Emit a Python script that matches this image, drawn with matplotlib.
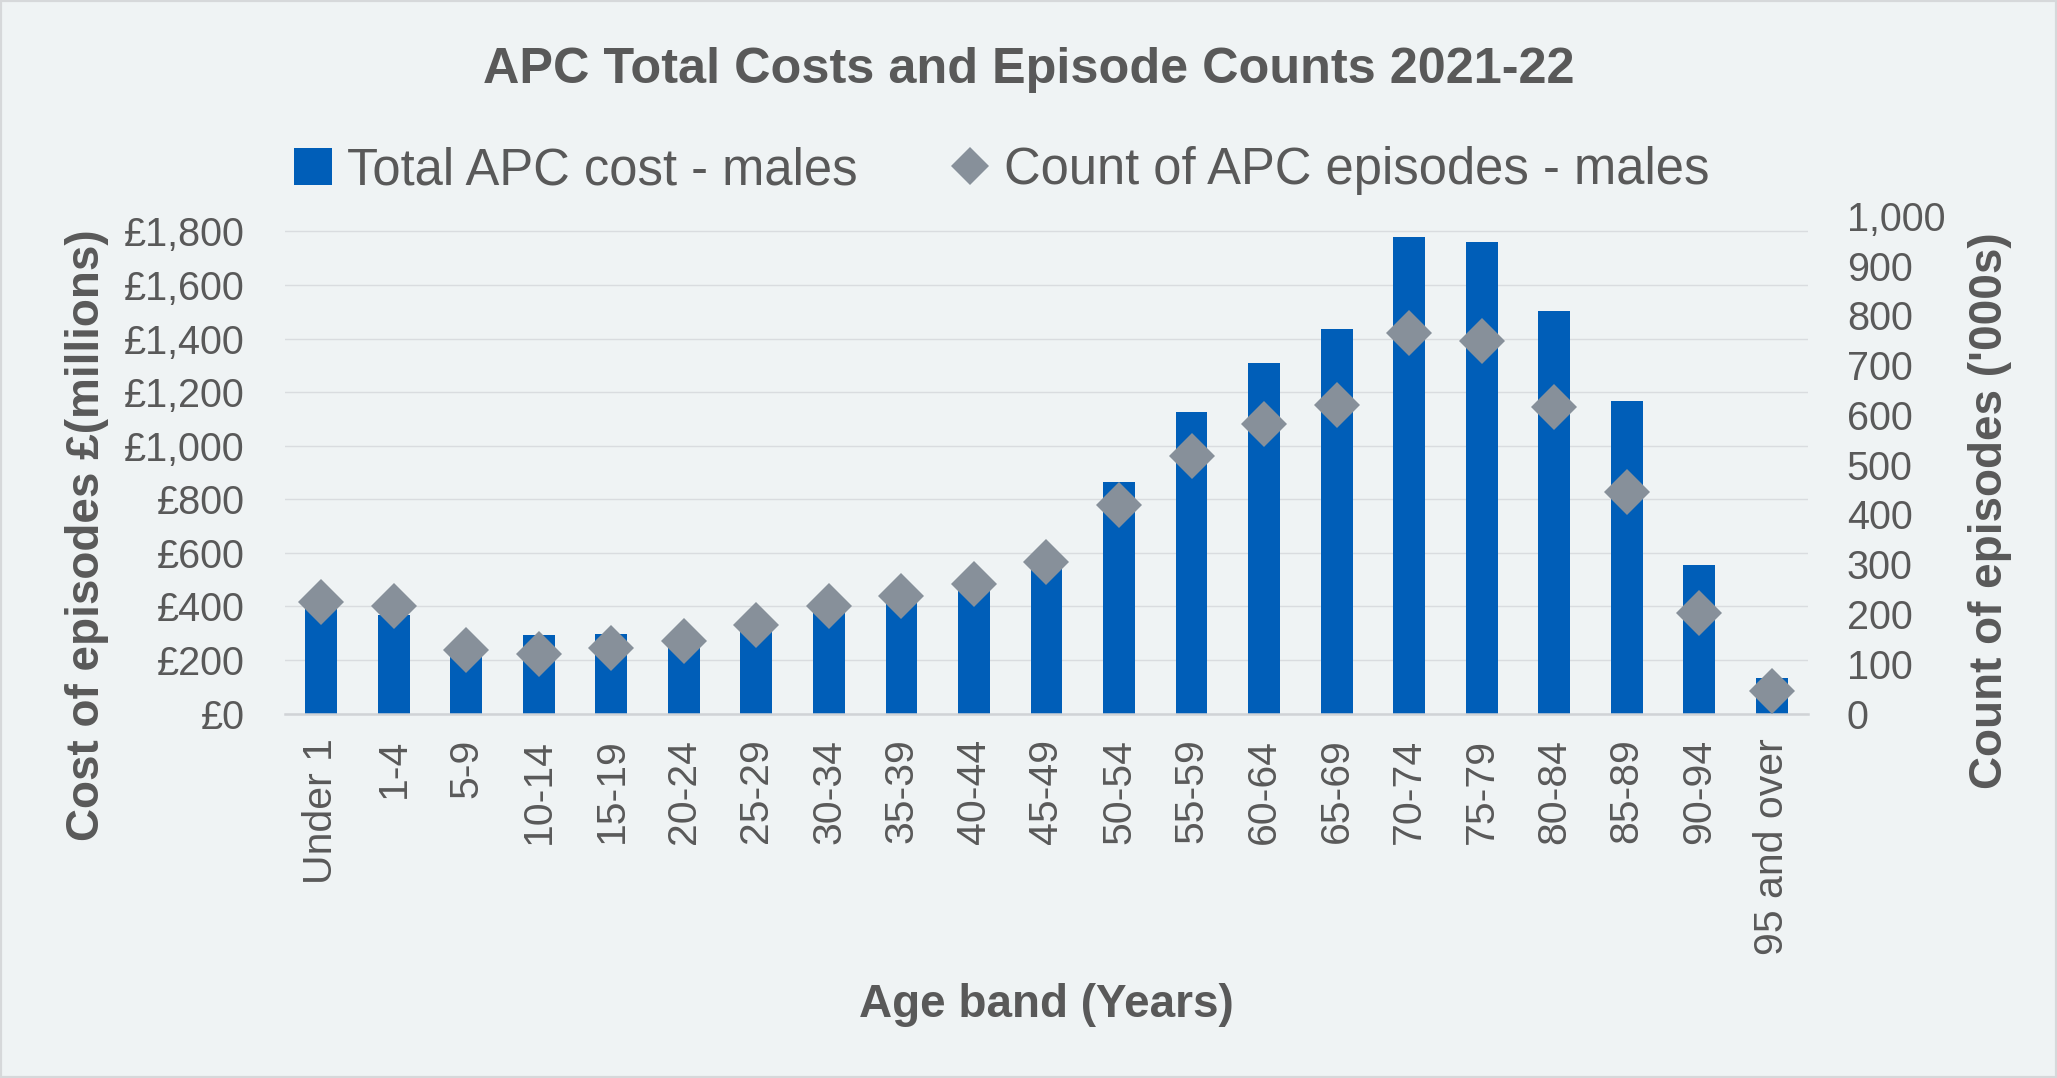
import matplotlib.pyplot as plt
from matplotlib.lines import Line2D
from matplotlib.patches import Patch, Rectangle
from matplotlib.ticker import FuncFormatter

plt.rcParams['font.family'] = ['Liberation Sans', 'DejaVu Sans']

# data
age_bands = ['Under 1', '1-4', '5-9', '10-14', '15-19', '20-24', '25-29',
             '30-34', '35-39', '40-44', '45-49', '50-54', '55-59', '60-64',
             '65-69', '70-74', '75-79', '80-84', '85-89', '90-94', '95 and over']
cost_millions = [405, 367, 235, 294, 298, 265, 312, 390, 425, 467, 555,
                 866, 1124, 1307, 1434, 1778, 1762, 1501, 1165, 555, 134]
episodes_000s = [224, 216, 128, 120, 131, 145, 178, 216, 236, 261, 304,
                 419, 517, 581, 619, 764, 748, 616, 446, 201, 46]
cost_ticks = list(range(0, 1801, 200))
count_ticks = list(range(0, 1001, 100))

bg = '#eff3f4'
txt = '#595959'
blue = '#005eb8'
grey = '#87909a'

fig = plt.figure(figsize=(20.57, 10.78), dpi=100, facecolor=bg)
fig.patches.append(Rectangle((0, 0), 1, 1, transform=fig.transFigure,
                             fill=False, edgecolor='#d6d8da', lw=3))

ax = fig.add_axes([0.1386, 0.3381, 0.7403, 0.4617])
ax.set_facecolor(bg)
x = list(range(len(age_bands)))
ax.bar(x, cost_millions, width=0.44, color=blue, zorder=2)
ax.set_xlim(-0.5, len(age_bands) - 0.5)
ax.set_ylim(0, 1858)
ax.set_yticks(cost_ticks)
ax.yaxis.set_major_formatter(FuncFormatter(lambda v, p: '£{:,.0f}'.format(v)))
ax.grid(axis='y', color='#d9dcdf', lw=1.0, zorder=0)
ax.set_xticks(x)
ax.set_xticklabels(age_bands, rotation=90)
ax.tick_params(axis='x', length=0, pad=18, labelsize=29.5, colors=txt)
ax.tick_params(axis='y', length=0, pad=29, labelsize=28.5, colors=txt)
for s in ['top', 'left', 'right']:
    ax.spines[s].set_visible(False)
ax.spines['bottom'].set_color('#d0d3d6')
ax.spines['bottom'].set_linewidth(1.8)
ax.spines['bottom'].set_zorder(3)

ax2 = ax.twinx()
ax2.plot(x, episodes_000s, linestyle='none', marker='D', ms=23,
         mew=0, color=grey, zorder=4)
ax2.set_ylim(0, 1000)
ax2.set_yticks(count_ticks)
ax2.yaxis.set_major_formatter(FuncFormatter(lambda v, p: '{:,.0f}'.format(v)))
ax2.tick_params(axis='y', length=0, pad=28, labelsize=28.5, colors=txt)
for s in ax2.spines.values():
    s.set_visible(False)

ax.set_ylabel('Cost of episodes £(millions)', fontsize=33, fontweight='bold', color=txt)
ax.yaxis.set_label_coords(-0.1155, 0.359)
ax2.set_ylabel("Count of episodes ('000s)", fontsize=33, fontweight='bold',
               color=txt, rotation=90)
ax2.yaxis.set_label_coords(1.105, 0.408)
ax.set_xlabel('Age band (Years)', fontsize=33, fontweight='bold', color=txt)
ax.xaxis.set_label_coords(0.5, -0.541)

fig.text(0.5, 0.935, 'APC Total Costs and Episode Counts 2021-22', ha='center',
         va='center', fontsize=36.3, fontweight='bold', color=txt)

handles = [Patch(facecolor=blue, edgecolor='none', label='Total APC cost - males'),
           Line2D([], [], linestyle='none', marker='D', ms=23, mew=0, color=grey,
                  label='Count of APC episodes - males')]
fig.legend(handles=handles, loc='center', bbox_to_anchor=(0.487, 0.8416), ncol=2,
           frameon=False, fontsize=36.5, labelcolor=txt, handlelength=0.75,
           handleheight=0.75, handletextpad=0.3, columnspacing=1.85, markerscale=0.85)

fig.savefig('out.png', dpi=100, facecolor=bg)
